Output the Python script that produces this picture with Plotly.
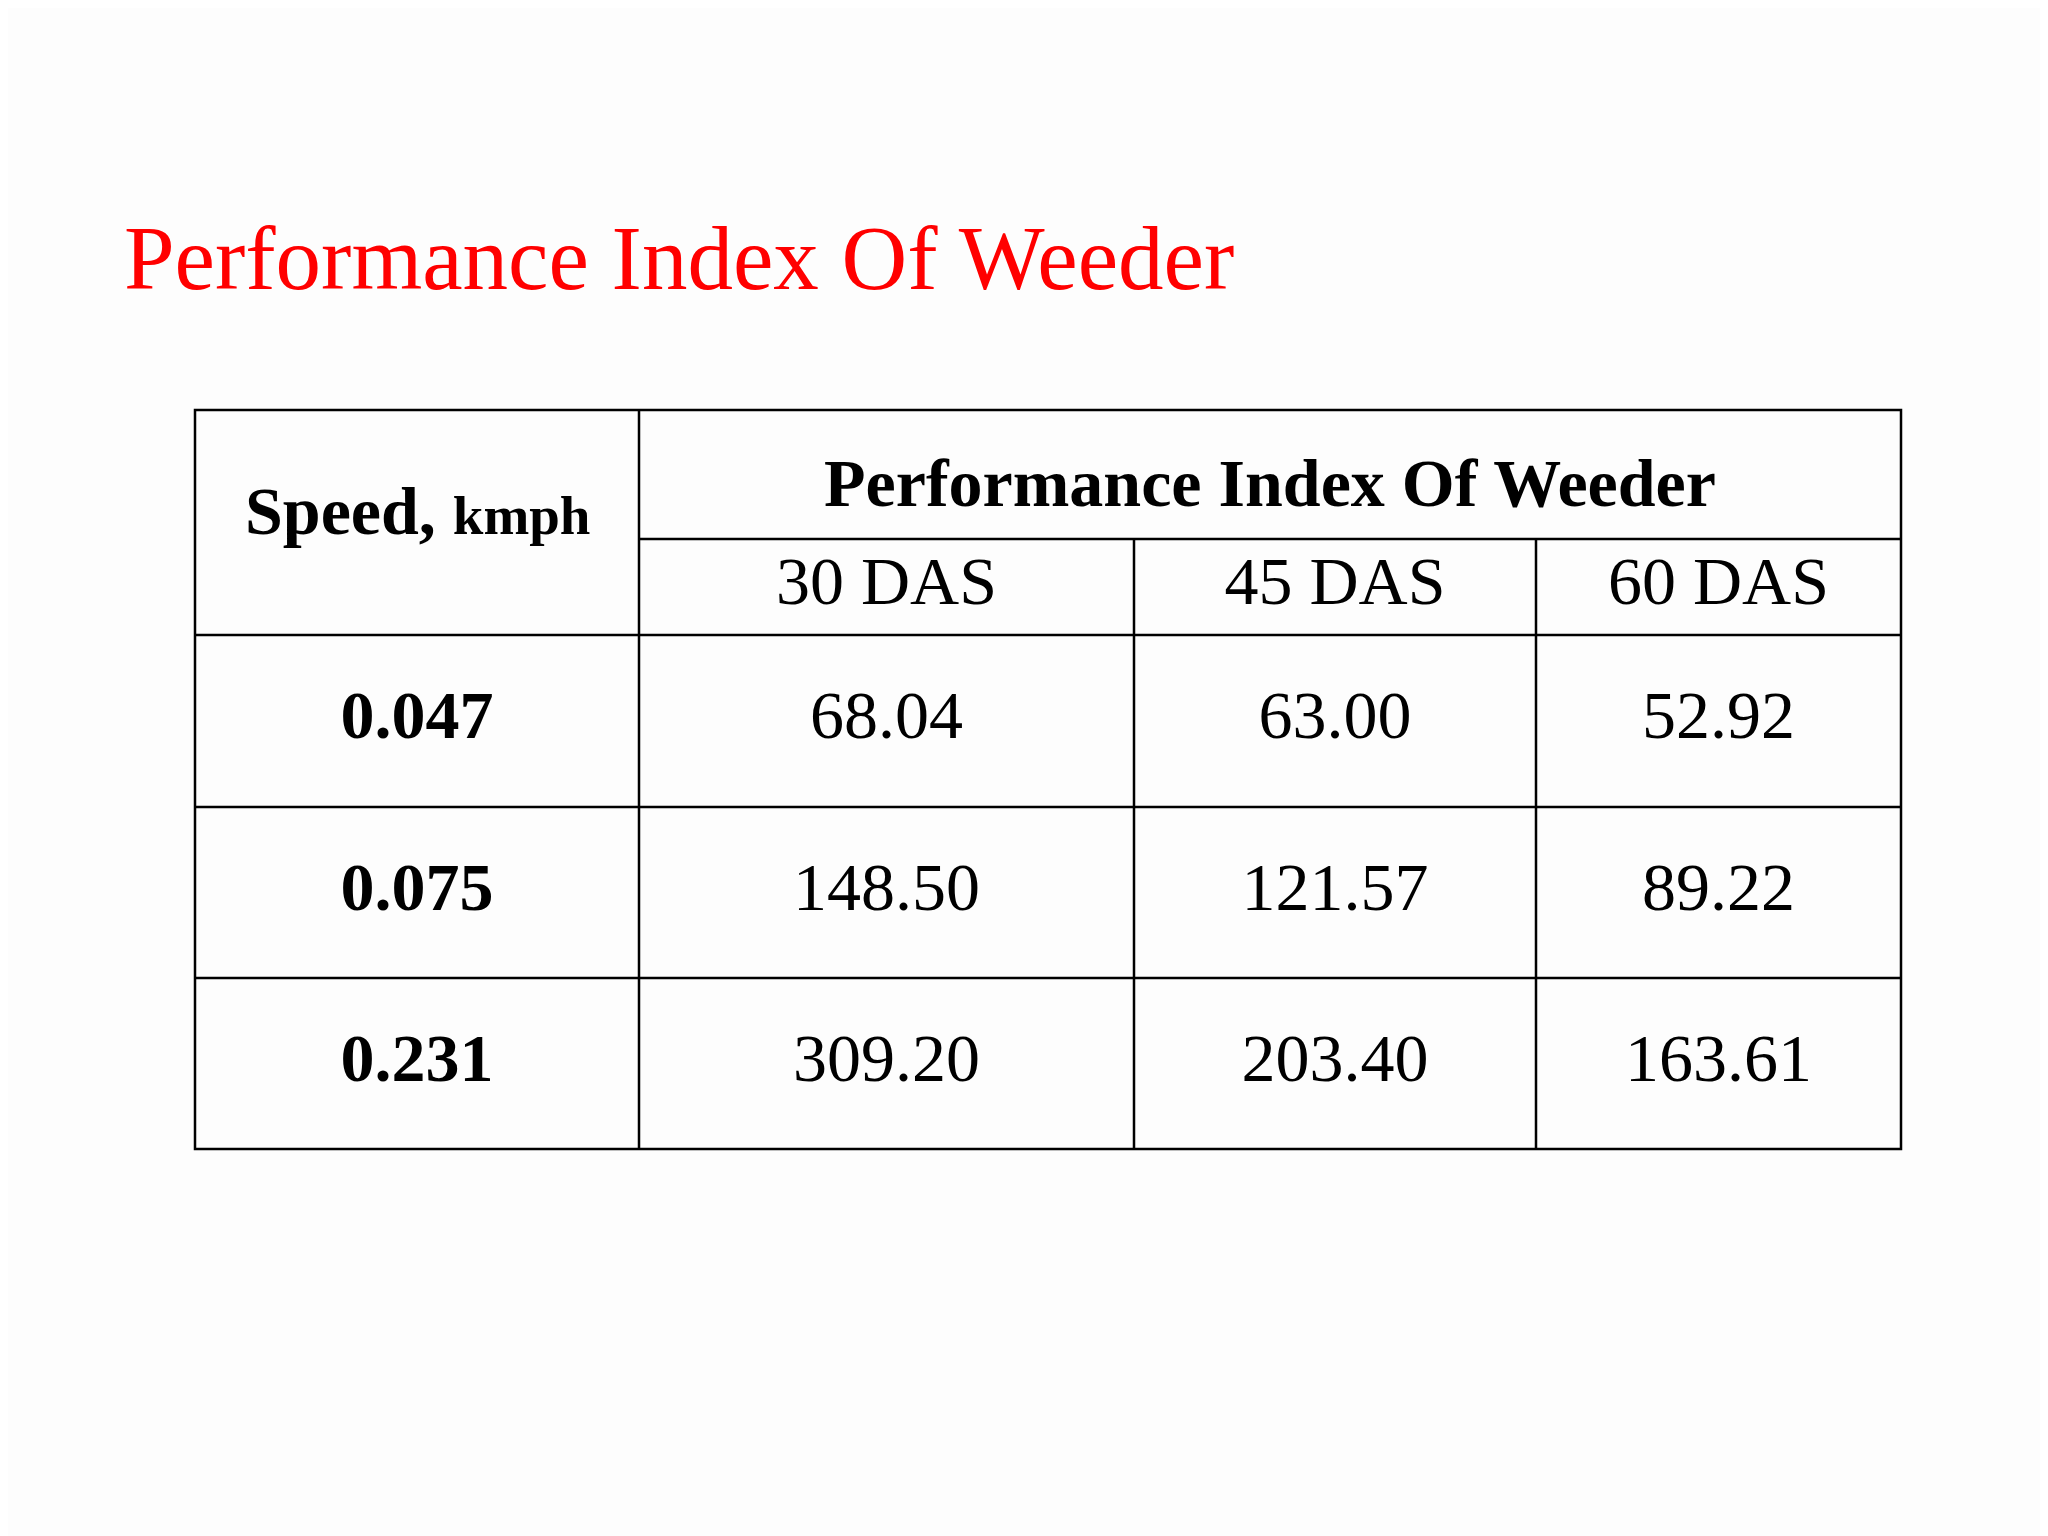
import plotly.graph_objects as go

title = "Performance Index Of Weeder"
speeds = ["0.047", "0.075", "0.231"]
days = ["30 DAS", "45 DAS", "60 DAS"]
index_30 = ["68.04", "148.50", "309.20"]
index_45 = ["63.00", "121.57", "203.40"]
index_60 = ["52.92", "89.22", "163.61"]

# layout of the table grid (pixel coords of a 2048x1536 page)
col_edges = [187, 631, 1126, 1528, 1893]
row_edges = [402, 531, 627, 799, 970, 1141]
serif = "Liberation Serif"

fig = go.Figure()

shapes = []
line = dict(color="black", width=2.5)
shapes.append(dict(type="rect", x0=col_edges[0], x1=col_edges[-1], y0=row_edges[0], y1=row_edges[-1], line=line))
shapes.append(dict(type="line", x0=col_edges[1], x1=col_edges[1], y0=row_edges[0], y1=row_edges[-1], line=line))
for c in col_edges[2:-1]:
    shapes.append(dict(type="line", x0=c, x1=c, y0=row_edges[1], y1=row_edges[-1], line=line))
shapes.append(dict(type="line", x0=col_edges[1], x1=col_edges[-1], y0=row_edges[1], y1=row_edges[1], line=line))
for r in row_edges[2:-1]:
    shapes.append(dict(type="line", x0=col_edges[0], x1=col_edges[-1], y0=r, y1=r, line=line))

def mid(a, i):
    return (a[i] + a[i + 1]) / 2

row_y = [mid(row_edges, i) for i in range(2, 5)]

# speed column (bold)
fig.add_trace(go.Scatter(
    x=[mid(col_edges, 0)] * 3, y=row_y, mode="text", text=["<b>%s</b>" % s for s in speeds],
    textfont=dict(family=serif, size=68, color="black"), hoverinfo="skip"))

# value columns
for i, vals in enumerate([index_30, index_45, index_60]):
    fig.add_trace(go.Scatter(
        x=[mid(col_edges, i + 1)] * 3, y=row_y, mode="text", text=vals,
        textfont=dict(family=serif, size=68, color="black"), hoverinfo="skip"))

# sub header
fig.add_trace(go.Scatter(
    x=[mid(col_edges, i) for i in range(1, 4)], y=[mid(row_edges, 1)] * 3, mode="text", text=days,
    textfont=dict(family=serif, size=68, color="black"), hoverinfo="skip"))

annotations = [
    dict(x=114, y=250, text=title, showarrow=False, xanchor="left", yanchor="middle",
         font=dict(family=serif, size=91, color="red")),
    dict(x=(col_edges[1] + col_edges[-1]) / 2, y=mid(row_edges, 0) + 8, text="<b>" + title + "</b>",
         showarrow=False, font=dict(family=serif, size=68, color="black")),
    dict(x=mid(col_edges, 0), y=(row_edges[0] + row_edges[2]) / 2 - 12,
         text="<b>Speed, <span style='font-size:55px'>kmph</span></b>",
         showarrow=False, font=dict(family=serif, size=68, color="black")),
]

fig.update_layout(
    width=2048, height=1536, margin=dict(l=0, r=0, t=0, b=0),
    paper_bgcolor="#fdfdfd", plot_bgcolor="#fdfdfd", showlegend=False,
    xaxis=dict(range=[0, 2048], visible=False, fixedrange=True),
    yaxis=dict(range=[1536, 0], visible=False, fixedrange=True),
    shapes=shapes, annotations=annotations,
)

fig.write_html("out.html", config={"displayModeBar": False})
